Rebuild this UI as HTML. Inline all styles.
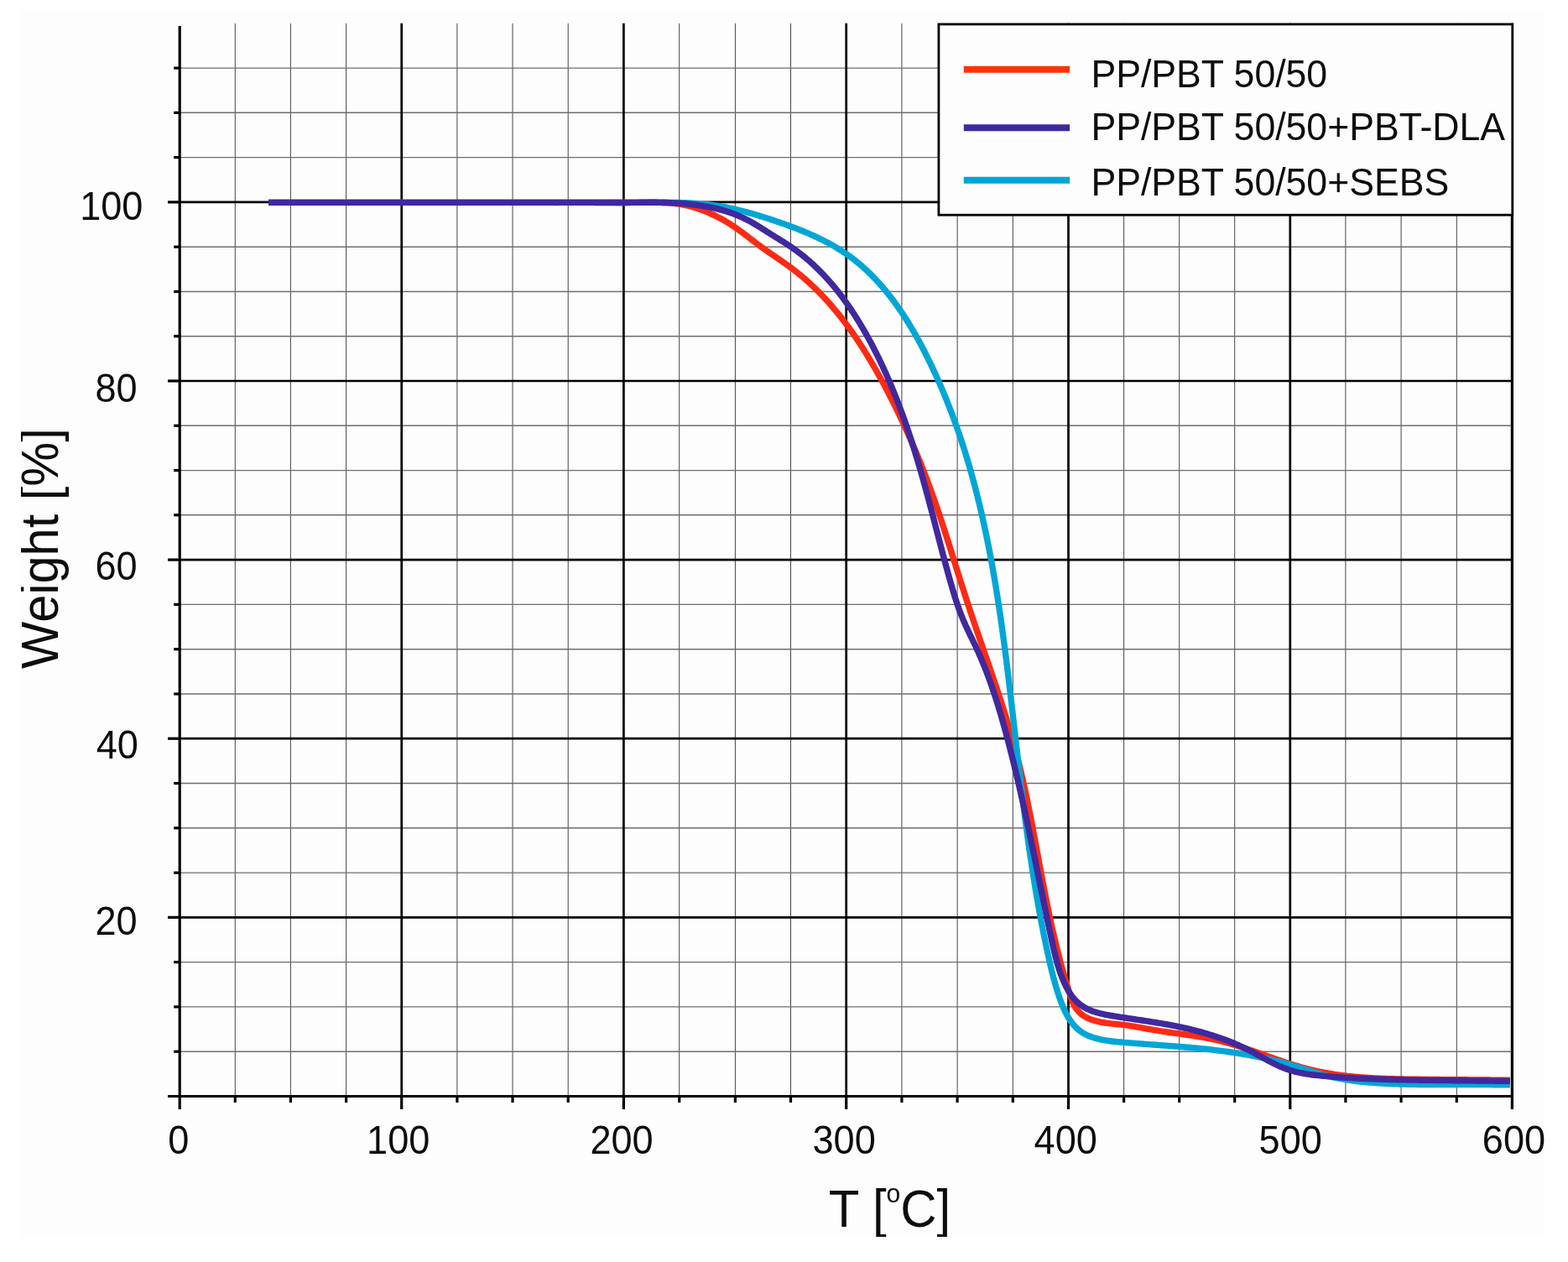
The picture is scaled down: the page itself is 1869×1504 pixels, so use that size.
<!DOCTYPE html>
<html lang="en"><head><meta charset="utf-8"><title>TGA curves</title>
<style>
html,body{margin:0;padding:0;background:#fff;}
body{width:1869px;height:1504px;overflow:hidden;}
svg{display:block;font-family:"Liberation Sans",Arial,sans-serif;}
</style></head><body>
<svg width="1869" height="1504" viewBox="0 0 1869 1504">
<rect x="25" y="12" width="1816" height="1462" fill="#fdfdfd"/>
<g stroke="#3c3c3c" stroke-width="0.95" fill="none">
<line x1="280.3" y1="27.8" x2="280.3" y2="1306.5"/>
<line x1="346.4" y1="27.8" x2="346.4" y2="1306.5"/>
<line x1="412.6" y1="27.8" x2="412.6" y2="1306.5"/>
<line x1="544.9" y1="27.8" x2="544.9" y2="1306.5"/>
<line x1="611.0" y1="27.8" x2="611.0" y2="1306.5"/>
<line x1="677.2" y1="27.8" x2="677.2" y2="1306.5"/>
<line x1="809.7" y1="27.8" x2="809.7" y2="1306.5"/>
<line x1="876.4" y1="27.8" x2="876.4" y2="1306.5"/>
<line x1="942.5" y1="27.8" x2="942.5" y2="1306.5"/>
<line x1="1074.9" y1="27.8" x2="1074.9" y2="1306.5"/>
<line x1="1141.1" y1="27.8" x2="1141.1" y2="1306.5"/>
<line x1="1207.3" y1="27.8" x2="1207.3" y2="1306.5"/>
<line x1="1339.6" y1="27.8" x2="1339.6" y2="1306.5"/>
<line x1="1405.7" y1="27.8" x2="1405.7" y2="1306.5"/>
<line x1="1471.7" y1="27.8" x2="1471.7" y2="1306.5"/>
<line x1="1603.9" y1="27.8" x2="1603.9" y2="1306.5"/>
<line x1="1670.1" y1="27.8" x2="1670.1" y2="1306.5"/>
<line x1="1736.3" y1="27.8" x2="1736.3" y2="1306.5"/>
</g>
<g stroke="#6e6e6e" stroke-width="1.4" fill="none">
<line x1="214.2" y1="1253.2" x2="1802.4" y2="1253.2"/>
<line x1="214.2" y1="1199.9" x2="1802.4" y2="1199.9"/>
<line x1="214.2" y1="1146.6" x2="1802.4" y2="1146.6"/>
<line x1="214.2" y1="1040.1" x2="1802.4" y2="1040.1"/>
<line x1="214.2" y1="986.8" x2="1802.4" y2="986.8"/>
<line x1="214.2" y1="933.5" x2="1802.4" y2="933.5"/>
<line x1="214.2" y1="827.0" x2="1802.4" y2="827.0"/>
<line x1="214.2" y1="773.7" x2="1802.4" y2="773.7"/>
<line x1="214.2" y1="720.4" x2="1802.4" y2="720.4"/>
<line x1="214.2" y1="613.8" x2="1802.4" y2="613.8"/>
<line x1="214.2" y1="560.6" x2="1802.4" y2="560.6"/>
<line x1="214.2" y1="507.3" x2="1802.4" y2="507.3"/>
<line x1="214.2" y1="400.7" x2="1802.4" y2="400.7"/>
<line x1="214.2" y1="347.5" x2="1802.4" y2="347.5"/>
<line x1="214.2" y1="294.2" x2="1802.4" y2="294.2"/>
<line x1="214.2" y1="187.6" x2="1802.4" y2="187.6"/>
<line x1="214.2" y1="134.3" x2="1802.4" y2="134.3"/>
<line x1="214.2" y1="81.1" x2="1802.4" y2="81.1"/>
</g>
<g stroke="#000" stroke-width="2.7" fill="none">
<line x1="478.7" y1="27.8" x2="478.7" y2="1306.5"/>
<line x1="743.4" y1="27.8" x2="743.4" y2="1306.5"/>
<line x1="1008.7" y1="27.8" x2="1008.7" y2="1306.5"/>
<line x1="1273.5" y1="27.8" x2="1273.5" y2="1306.5"/>
<line x1="1537.8" y1="27.8" x2="1537.8" y2="1306.5"/>
<line x1="214.2" y1="1093.3" x2="1802.4" y2="1093.3"/>
<line x1="214.2" y1="880.2" x2="1802.4" y2="880.2"/>
<line x1="214.2" y1="667.1" x2="1802.4" y2="667.1"/>
<line x1="214.2" y1="454.0" x2="1802.4" y2="454.0"/>
<line x1="214.2" y1="240.9" x2="1802.4" y2="240.9"/>
</g>
<g fill="none" stroke-width="7.4" stroke-linejoin="round" stroke-linecap="butt">
<path stroke="#ff2a14" d="M320.00,241.40 659.50,241.40 661.50,241.40 663.50,241.40 665.50,241.40 667.50,241.40 669.49,241.40 671.49,241.40 673.49,241.40 675.49,241.40 677.49,241.40 679.49,241.40 681.49,241.40 683.49,241.40 685.49,241.40 687.48,241.40 689.48,241.40 691.48,241.40 693.48,241.40 695.48,241.40 697.48,241.40 699.48,241.40 701.48,241.40 703.47,241.40 705.47,241.40 707.47,241.40 709.47,241.40 711.47,241.40 713.47,241.40 715.47,241.40 717.47,241.40 719.47,241.40 721.46,241.40 723.46,241.40 725.46,241.40 727.46,241.40 729.46,241.40 731.46,241.40 733.46,241.41 735.46,241.41 737.45,241.41 739.45,241.41 741.45,241.42 743.45,241.42 745.45,241.42 747.45,241.42 749.45,241.42 751.45,241.42 753.45,241.41 755.45,241.41 757.44,241.41 759.44,241.40 761.44,241.39 763.44,241.39 765.44,241.38 767.44,241.36 769.44,241.35 771.44,241.34 773.44,241.32 775.44,241.31 777.44,241.31 779.44,241.31 781.44,241.32 783.44,241.33 785.43,241.36 787.43,241.40 789.42,241.45 791.41,241.52 793.40,241.61 795.39,241.72 797.38,241.84 799.36,241.99 801.34,242.16 803.32,242.36 805.29,242.58 807.27,242.84 809.24,243.12 811.20,243.43 813.16,243.78 815.12,244.15 817.08,244.56 819.03,244.99 820.97,245.46 822.91,245.95 824.85,246.47 826.78,247.02 828.70,247.60 830.62,248.20 832.53,248.83 834.43,249.49 836.33,250.17 838.21,250.87 840.09,251.60 841.97,252.35 843.83,253.13 845.68,253.93 847.53,254.75 849.37,255.59 851.19,256.46 853.01,257.34 854.81,258.24 856.61,259.17 858.39,260.11 860.16,261.08 861.92,262.06 863.67,263.05 865.41,264.07 867.13,265.10 868.84,266.15 870.54,267.21 872.22,268.29 873.89,269.39 875.55,270.49 877.19,271.62 878.82,272.75 880.43,273.90 882.03,275.05 883.63,276.22 885.21,277.40 886.79,278.58 888.36,279.77 889.93,280.96 891.49,282.16 893.06,283.36 894.62,284.57 896.18,285.77 897.74,286.98 899.31,288.18 900.88,289.38 902.46,290.58 904.05,291.77 905.65,292.96 907.25,294.14 908.87,295.32 910.50,296.49 912.13,297.65 913.78,298.80 915.43,299.96 917.09,301.11 918.75,302.25 920.42,303.40 922.09,304.54 923.77,305.68 925.44,306.83 927.12,307.97 928.79,309.12 930.46,310.27 932.13,311.43 933.80,312.59 935.46,313.76 937.11,314.93 938.76,316.11 940.40,317.30 942.03,318.49 943.65,319.70 945.26,320.92 946.85,322.14 948.44,323.38 950.02,324.63 951.58,325.89 953.14,327.15 954.68,328.43 956.22,329.72 957.74,331.01 959.25,332.32 960.76,333.63 962.25,334.96 963.73,336.29 965.21,337.63 966.67,338.99 968.13,340.35 969.57,341.72 971.01,343.09 972.43,344.48 973.85,345.88 975.26,347.28 976.65,348.69 978.04,350.11 979.42,351.54 980.79,352.98 982.15,354.42 983.51,355.87 984.85,357.33 986.18,358.80 987.51,360.28 988.83,361.76 990.14,363.25 991.44,364.75 992.73,366.25 994.02,367.77 995.29,369.29 996.56,370.81 997.82,372.35 999.07,373.89 1000.32,375.43 1001.55,376.99 1002.78,378.55 1004.00,380.11 1005.21,381.69 1006.42,383.26 1007.62,384.85 1008.81,386.44 1009.99,388.04 1011.17,389.64 1012.34,391.25 1013.50,392.86 1014.66,394.48 1015.81,396.11 1016.95,397.74 1018.08,399.38 1019.21,401.02 1020.33,402.66 1021.45,404.32 1022.56,405.97 1023.66,407.63 1024.76,409.30 1025.85,410.97 1026.93,412.65 1028.01,414.33 1029.08,416.01 1030.15,417.70 1031.21,419.39 1032.26,421.09 1033.31,422.79 1034.35,424.50 1035.39,426.20 1036.42,427.92 1037.45,429.63 1038.47,431.35 1039.49,433.08 1040.50,434.80 1041.51,436.53 1042.51,438.27 1043.51,440.00 1044.50,441.74 1045.48,443.48 1046.47,445.23 1047.45,446.98 1048.42,448.73 1049.39,450.48 1050.35,452.24 1051.31,453.99 1052.27,455.75 1053.22,457.52 1054.17,459.28 1055.11,461.05 1056.05,462.82 1056.99,464.59 1057.92,466.36 1058.84,468.14 1059.77,469.92 1060.68,471.70 1061.60,473.48 1062.51,475.26 1063.42,477.05 1064.32,478.84 1065.22,480.63 1066.11,482.42 1067.00,484.21 1067.89,486.01 1068.77,487.81 1069.65,489.61 1070.52,491.41 1071.39,493.21 1072.26,495.02 1073.12,496.83 1073.98,498.64 1074.83,500.45 1075.68,502.26 1076.53,504.08 1077.37,505.89 1078.21,507.71 1079.04,509.53 1079.87,511.36 1080.70,513.18 1081.52,515.01 1082.34,516.83 1083.15,518.66 1083.96,520.49 1084.77,522.33 1085.57,524.16 1086.37,526.00 1087.17,527.83 1087.96,529.67 1088.75,531.51 1089.53,533.35 1090.31,535.20 1091.09,537.04 1091.86,538.89 1092.63,540.74 1093.40,542.59 1094.16,544.44 1094.91,546.29 1095.67,548.14 1096.42,550.00 1097.16,551.85 1097.91,553.71 1098.65,555.57 1099.38,557.43 1100.11,559.29 1100.84,561.16 1101.57,563.02 1102.29,564.89 1103.00,566.75 1103.72,568.62 1104.43,570.49 1105.13,572.36 1105.83,574.23 1106.53,576.10 1107.23,577.98 1107.92,579.85 1108.61,581.73 1109.29,583.60 1109.97,585.48 1110.65,587.36 1111.32,589.24 1111.99,591.12 1112.66,593.00 1113.32,594.89 1113.98,596.77 1114.64,598.65 1115.30,600.54 1115.95,602.43 1116.60,604.31 1117.24,606.20 1117.88,608.09 1118.52,609.98 1119.16,611.87 1119.80,613.76 1120.43,615.65 1121.06,617.55 1121.69,619.44 1122.31,621.33 1122.94,623.23 1123.56,625.12 1124.18,627.02 1124.80,628.92 1125.41,630.81 1126.03,632.71 1126.64,634.61 1127.25,636.51 1127.86,638.40 1128.47,640.30 1129.07,642.20 1129.68,644.10 1130.29,646.00 1130.89,647.90 1131.49,649.80 1132.09,651.71 1132.69,653.61 1133.29,655.51 1133.89,657.41 1134.49,659.31 1135.09,661.21 1135.69,663.12 1136.29,665.02 1136.88,666.92 1137.48,668.82 1138.08,670.73 1138.68,672.63 1139.27,674.53 1139.87,676.44 1140.47,678.34 1141.07,680.24 1141.66,682.14 1142.26,684.05 1142.86,685.95 1143.46,687.85 1144.06,689.75 1144.66,691.65 1145.27,693.56 1145.87,695.46 1146.47,697.36 1147.08,699.26 1147.69,701.16 1148.29,703.06 1148.90,704.96 1149.51,706.86 1150.13,708.76 1150.74,710.66 1151.36,712.56 1151.97,714.45 1152.59,716.35 1153.21,718.25 1153.83,720.14 1154.46,722.04 1155.09,723.94 1155.72,725.83 1156.35,727.72 1156.98,729.62 1157.61,731.51 1158.25,733.40 1158.89,735.30 1159.52,737.19 1160.16,739.08 1160.81,740.97 1161.45,742.86 1162.09,744.76 1162.74,746.65 1163.38,748.54 1164.03,750.43 1164.68,752.32 1165.33,754.21 1165.98,756.09 1166.63,757.98 1167.28,759.87 1167.93,761.76 1168.58,763.65 1169.24,765.54 1169.89,767.43 1170.54,769.32 1171.20,771.21 1171.85,773.09 1172.50,774.98 1173.16,776.87 1173.81,778.76 1174.46,780.65 1175.12,782.54 1175.77,784.42 1176.42,786.31 1177.07,788.20 1177.72,790.09 1178.37,791.98 1179.02,793.87 1179.67,795.76 1180.32,797.65 1180.97,799.54 1181.62,801.43 1182.26,803.32 1182.91,805.21 1183.55,807.10 1184.19,808.99 1184.83,810.89 1185.47,812.78 1186.11,814.67 1186.75,816.56 1187.38,818.46 1188.02,820.35 1188.65,822.25 1189.28,824.14 1189.91,826.04 1190.53,827.93 1191.16,829.83 1191.78,831.72 1192.40,833.62 1193.02,835.52 1193.63,837.42 1194.24,839.32 1194.85,841.22 1195.46,843.12 1196.07,845.02 1196.67,846.92 1197.27,848.83 1197.87,850.73 1198.46,852.63 1199.05,854.54 1199.64,856.44 1200.22,858.35 1200.81,860.26 1201.39,862.17 1201.96,864.08 1202.53,865.99 1203.10,867.90 1203.67,869.81 1204.23,871.72 1204.79,873.64 1205.34,875.55 1205.89,877.47 1206.44,879.39 1206.98,881.30 1207.52,883.22 1208.05,885.14 1208.58,887.06 1209.11,888.99 1209.63,890.91 1210.15,892.84 1210.66,894.76 1211.17,896.69 1211.67,898.62 1212.17,900.55 1212.67,902.48 1213.16,904.41 1213.64,906.34 1214.13,908.28 1214.60,910.21 1215.08,912.15 1215.55,914.08 1216.01,916.02 1216.48,917.96 1216.94,919.90 1217.39,921.84 1217.84,923.79 1218.29,925.73 1218.74,927.67 1219.18,929.62 1219.62,931.56 1220.05,933.51 1220.48,935.46 1220.91,937.41 1221.34,939.36 1221.76,941.31 1222.18,943.26 1222.60,945.21 1223.01,947.16 1223.43,949.11 1223.84,951.07 1224.24,953.02 1224.65,954.98 1225.05,956.93 1225.45,958.89 1225.85,960.85 1226.24,962.80 1226.64,964.76 1227.03,966.72 1227.42,968.68 1227.80,970.64 1228.19,972.60 1228.57,974.56 1228.96,976.52 1229.34,978.48 1229.72,980.45 1230.10,982.41 1230.47,984.37 1230.85,986.34 1231.22,988.30 1231.60,990.26 1231.97,992.23 1232.34,994.19 1232.71,996.16 1233.08,998.12 1233.45,1000.09 1233.82,1002.05 1234.18,1004.02 1234.55,1005.98 1234.92,1007.95 1235.28,1009.92 1235.65,1011.88 1236.01,1013.85 1236.38,1015.82 1236.74,1017.78 1237.11,1019.75 1237.47,1021.72 1237.84,1023.68 1238.20,1025.65 1238.57,1027.62 1238.93,1029.58 1239.30,1031.55 1239.67,1033.52 1240.03,1035.48 1240.40,1037.45 1240.77,1039.42 1241.14,1041.38 1241.51,1043.35 1241.88,1045.32 1242.25,1047.28 1242.62,1049.25 1242.99,1051.21 1243.37,1053.18 1243.74,1055.14 1244.12,1057.11 1244.50,1059.07 1244.88,1061.04 1245.26,1063.00 1245.65,1064.96 1246.03,1066.93 1246.42,1068.89 1246.81,1070.85 1247.20,1072.81 1247.59,1074.77 1247.98,1076.73 1248.38,1078.69 1248.78,1080.65 1249.18,1082.61 1249.58,1084.57 1249.99,1086.53 1250.39,1088.49 1250.80,1090.44 1251.22,1092.40 1251.63,1094.36 1252.05,1096.31 1252.47,1098.27 1252.89,1100.22 1253.32,1102.17 1253.75,1104.12 1254.18,1106.08 1254.62,1108.03 1255.06,1109.98 1255.50,1111.93 1255.95,1113.87 1256.40,1115.82 1256.85,1117.77 1257.31,1119.71 1257.77,1121.66 1258.23,1123.60 1258.70,1125.55 1259.17,1127.49 1259.65,1129.43 1260.13,1131.37 1260.61,1133.31 1261.10,1135.25 1261.59,1137.19 1262.09,1139.12 1262.59,1141.06 1263.09,1142.99 1263.60,1144.92 1264.12,1146.86 1264.63,1148.79 1265.16,1150.72 1265.69,1152.65 1266.22,1154.58 1266.76,1156.50 1267.30,1158.43 1267.85,1160.36 1268.40,1162.29 1268.96,1164.21 1269.52,1166.14 1270.09,1168.06 1270.66,1169.99 1271.24,1171.91 1271.82,1173.84 1272.41,1175.76 1273.01,1177.68 1273.61,1179.61 1274.21,1181.53 1274.82,1183.46 1275.44,1185.38 1276.07,1187.30 1276.72,1189.21 1277.39,1191.09 1278.10,1192.95 1278.86,1194.78 1279.68,1196.55 1280.55,1198.28 1281.50,1199.95 1282.52,1201.55 1283.60,1203.09 1284.77,1204.56 1286.01,1205.95 1287.33,1207.26 1288.73,1208.48 1290.21,1209.62 1291.76,1210.68 1293.37,1211.67 1295.04,1212.58 1296.76,1213.42 1298.53,1214.20 1300.34,1214.91 1302.19,1215.55 1304.08,1216.15 1305.99,1216.69 1307.93,1217.18 1309.91,1217.62 1311.90,1218.03 1313.91,1218.40 1315.95,1218.73 1318.00,1219.04 1320.06,1219.32 1322.13,1219.58 1324.21,1219.83 1326.29,1220.06 1328.37,1220.28 1330.46,1220.50 1332.54,1220.71 1334.61,1220.93 1336.67,1221.15 1338.72,1221.39 1340.76,1221.64 1342.78,1221.91 1344.78,1222.19 1346.78,1222.49 1348.75,1222.79 1350.72,1223.11 1352.68,1223.44 1354.62,1223.78 1356.56,1224.12 1358.50,1224.47 1360.43,1224.82 1362.35,1225.18 1364.27,1225.53 1366.19,1225.89 1368.11,1226.24 1370.04,1226.58 1371.96,1226.93 1373.89,1227.26 1375.82,1227.59 1377.76,1227.91 1379.70,1228.22 1381.65,1228.52 1383.60,1228.82 1385.55,1229.12 1387.51,1229.41 1389.47,1229.69 1391.44,1229.97 1393.40,1230.25 1395.37,1230.53 1397.34,1230.81 1399.32,1231.08 1401.30,1231.35 1403.27,1231.62 1405.25,1231.90 1407.23,1232.17 1409.22,1232.45 1411.20,1232.73 1413.18,1233.01 1415.17,1233.30 1417.15,1233.58 1419.14,1233.88 1421.12,1234.18 1423.10,1234.48 1425.08,1234.79 1427.07,1235.11 1429.05,1235.44 1431.03,1235.77 1433.00,1236.11 1434.98,1236.47 1436.95,1236.83 1438.92,1237.20 1440.89,1237.59 1442.86,1237.98 1444.82,1238.39 1446.78,1238.81 1448.74,1239.24 1450.69,1239.69 1452.64,1240.15 1454.58,1240.63 1456.52,1241.12 1458.46,1241.62 1460.39,1242.14 1462.33,1242.67 1464.25,1243.20 1466.18,1243.75 1468.10,1244.31 1470.02,1244.88 1471.94,1245.46 1473.85,1246.05 1475.76,1246.65 1477.67,1247.26 1479.58,1247.87 1481.49,1248.49 1483.39,1249.12 1485.29,1249.75 1487.19,1250.39 1489.09,1251.03 1490.99,1251.68 1492.88,1252.33 1494.77,1252.99 1496.67,1253.65 1498.56,1254.31 1500.45,1254.98 1502.34,1255.64 1504.23,1256.31 1506.12,1256.98 1508.01,1257.65 1509.90,1258.32 1511.78,1258.98 1513.67,1259.65 1515.56,1260.32 1517.45,1260.98 1519.34,1261.64 1521.23,1262.30 1523.12,1262.95 1525.01,1263.60 1526.90,1264.25 1528.79,1264.89 1530.68,1265.52 1532.57,1266.15 1534.47,1266.78 1536.36,1267.39 1538.26,1268.00 1540.16,1268.60 1542.06,1269.19 1543.97,1269.78 1545.87,1270.35 1547.78,1270.91 1549.69,1271.47 1551.60,1272.01 1553.51,1272.54 1555.43,1273.06 1557.34,1273.57 1559.27,1274.06 1561.19,1274.55 1563.12,1275.01 1565.05,1275.47 1566.98,1275.91 1568.91,1276.34 1570.85,1276.76 1572.79,1277.16 1574.74,1277.56 1576.68,1277.94 1578.63,1278.31 1580.58,1278.66 1582.53,1279.01 1584.49,1279.35 1586.44,1279.67 1588.40,1279.98 1590.37,1280.29 1592.33,1280.58 1594.29,1280.86 1596.26,1281.14 1598.23,1281.40 1600.20,1281.65 1602.18,1281.90 1604.15,1282.13 1606.13,1282.36 1608.11,1282.57 1610.09,1282.78 1612.07,1282.98 1614.05,1283.17 1616.04,1283.36 1618.02,1283.53 1620.01,1283.70 1622.00,1283.86 1623.99,1284.02 1625.98,1284.16 1627.97,1284.30 1629.97,1284.44 1631.96,1284.56 1633.96,1284.68 1635.96,1284.80 1637.95,1284.91 1639.95,1285.01 1641.95,1285.11 1643.95,1285.20 1645.95,1285.29 1647.95,1285.37 1649.96,1285.44 1651.96,1285.52 1653.96,1285.59 1655.97,1285.65 1657.97,1285.71 1659.97,1285.77 1661.98,1285.82 1663.98,1285.87 1665.99,1285.92 1667.99,1285.96 1670.00,1286.00 1672.01,1286.04 1674.01,1286.08 1676.02,1286.11 1678.02,1286.14 1680.03,1286.17 1682.03,1286.20 1684.04,1286.23 1686.04,1286.25 1688.05,1286.28 1690.05,1286.30 1692.05,1286.32 1694.06,1286.35 1696.06,1286.37 1698.06,1286.39 1700.06,1286.41 1702.06,1286.43 1704.07,1286.45 1706.07,1286.47 1708.07,1286.49 1710.07,1286.51 1712.07,1286.53 1714.07,1286.55 1716.07,1286.56 1718.06,1286.58 1720.06,1286.60 1722.06,1286.61 1724.06,1286.63 1726.06,1286.65 1728.06,1286.66 1730.05,1286.68 1732.05,1286.69 1734.05,1286.71 1736.05,1286.73 1738.05,1286.74 1740.04,1286.76 1742.04,1286.77 1744.04,1286.79 1746.03,1286.80 1748.03,1286.82 1750.03,1286.83 1752.03,1286.85 1754.02,1286.87 1756.02,1286.88 1758.02,1286.90 1760.02,1286.92 1762.01,1286.93 1764.01,1286.95 1766.01,1286.97 1768.01,1286.98 1770.01,1287.00 1772.01,1287.02 1774.00,1287.04 1776.00,1287.06 1778.00,1287.08 1780.00,1287.10 1782.00,1287.12 1784.00,1287.14 1786.00,1287.16 1788.00,1287.18 1790.00,1287.21 1792.00,1287.23 1794.01,1287.25 1796.01,1287.28 1798.01,1287.30 1800.01,1287.33"/>
<path stroke="#00a6d6" d="M320.00,241.40 682.80,241.40 684.84,241.40 686.90,241.40 688.96,241.39 691.02,241.39 693.08,241.39 695.14,241.39 697.20,241.39 699.25,241.39 701.31,241.39 703.36,241.39 705.42,241.39 707.47,241.39 709.53,241.39 711.58,241.39 713.63,241.40 715.68,241.40 717.73,241.40 719.79,241.41 721.84,241.41 723.89,241.41 725.94,241.41 727.99,241.42 730.04,241.42 732.09,241.42 734.14,241.43 736.19,241.43 738.24,241.43 740.29,241.43 742.34,241.43 744.39,241.43 746.44,241.43 748.49,241.43 750.54,241.43 752.59,241.42 754.65,241.42 756.70,241.42 758.75,241.41 760.81,241.40 762.86,241.40 764.92,241.39 766.97,241.38 769.03,241.37 771.08,241.36 773.14,241.34 775.20,241.33 777.26,241.32 779.32,241.31 781.38,241.30 783.44,241.29 785.49,241.29 787.55,241.29 789.61,241.29 791.67,241.29 793.73,241.30 795.79,241.31 797.85,241.32 799.91,241.34 801.96,241.37 804.02,241.40 806.08,241.44 808.13,241.48 810.19,241.53 812.24,241.59 814.29,241.66 816.34,241.73 818.39,241.81 820.44,241.90 822.49,242.00 824.54,242.11 826.58,242.23 828.63,242.36 830.67,242.51 832.71,242.66 834.75,242.82 836.78,243.00 838.82,243.19 840.85,243.39 842.88,243.61 844.91,243.84 846.93,244.08 848.96,244.34 850.98,244.61 853.00,244.90 855.01,245.20 857.03,245.52 859.04,245.86 861.05,246.21 863.06,246.58 865.06,246.96 867.06,247.35 869.06,247.76 871.06,248.18 873.06,248.61 875.05,249.06 877.04,249.52 879.04,249.99 881.02,250.48 883.01,250.97 885.00,251.48 886.98,251.99 888.97,252.52 890.95,253.06 892.93,253.61 894.91,254.17 896.89,254.73 898.87,255.31 900.85,255.89 902.83,256.49 904.80,257.09 906.78,257.70 908.76,258.31 910.73,258.93 912.71,259.56 914.68,260.20 916.66,260.84 918.63,261.49 920.61,262.14 922.58,262.80 924.55,263.46 926.53,264.13 928.50,264.80 930.47,265.48 932.44,266.17 934.41,266.86 936.38,267.56 938.34,268.27 940.31,268.98 942.27,269.70 944.22,270.43 946.17,271.17 948.12,271.92 950.07,272.67 952.01,273.43 953.95,274.20 955.88,274.98 957.81,275.77 959.73,276.57 961.65,277.38 963.56,278.20 965.46,279.03 967.36,279.87 969.25,280.72 971.14,281.58 973.02,282.45 974.89,283.33 976.75,284.23 978.60,285.13 980.45,286.05 982.29,286.99 984.12,287.93 985.94,288.89 987.75,289.85 989.55,290.84 991.34,291.83 993.12,292.84 994.89,293.87 996.65,294.91 998.40,295.96 1000.14,297.02 1001.86,298.11 1003.58,299.20 1005.28,300.32 1006.97,301.44 1008.64,302.59 1010.31,303.75 1011.96,304.92 1013.59,306.11 1015.22,307.32 1016.83,308.54 1018.43,309.78 1020.02,311.03 1021.59,312.30 1023.15,313.58 1024.70,314.88 1026.24,316.19 1027.76,317.51 1029.28,318.85 1030.78,320.21 1032.27,321.57 1033.74,322.95 1035.21,324.35 1036.66,325.75 1038.10,327.17 1039.54,328.61 1040.96,330.05 1042.36,331.51 1043.76,332.98 1045.15,334.46 1046.52,335.95 1047.89,337.46 1049.24,338.97 1050.58,340.50 1051.91,342.04 1053.24,343.59 1054.55,345.15 1055.85,346.72 1057.14,348.30 1058.42,349.89 1059.69,351.49 1060.95,353.10 1062.20,354.72 1063.44,356.35 1064.67,357.99 1065.89,359.64 1067.11,361.29 1068.31,362.96 1069.50,364.63 1070.68,366.32 1071.86,368.01 1073.02,369.70 1074.18,371.41 1075.33,373.12 1076.47,374.85 1077.60,376.57 1078.72,378.31 1079.83,380.05 1080.93,381.80 1082.03,383.56 1083.12,385.32 1084.20,387.09 1085.27,388.86 1086.33,390.64 1087.39,392.42 1088.44,394.21 1089.48,396.01 1090.51,397.81 1091.53,399.62 1092.55,401.43 1093.56,403.24 1094.56,405.06 1095.56,406.88 1096.55,408.71 1097.53,410.54 1098.50,412.37 1099.47,414.21 1100.43,416.05 1101.38,417.89 1102.33,419.74 1103.27,421.59 1104.21,423.44 1105.14,425.30 1106.06,427.15 1106.97,429.01 1107.88,430.87 1108.79,432.73 1109.69,434.59 1110.58,436.46 1111.46,438.33 1112.34,440.19 1113.22,442.07 1114.09,443.94 1114.95,445.81 1115.80,447.69 1116.65,449.57 1117.50,451.45 1118.34,453.33 1119.17,455.21 1120.00,457.09 1120.82,458.98 1121.64,460.87 1122.45,462.76 1123.25,464.65 1124.05,466.54 1124.85,468.44 1125.64,470.34 1126.42,472.23 1127.20,474.13 1127.97,476.04 1128.74,477.94 1129.50,479.84 1130.25,481.75 1131.00,483.66 1131.75,485.57 1132.49,487.48 1133.22,489.39 1133.95,491.31 1134.68,493.22 1135.40,495.14 1136.11,497.06 1136.82,498.98 1137.53,500.90 1138.22,502.83 1138.92,504.75 1139.61,506.68 1140.29,508.61 1140.97,510.54 1141.65,512.47 1142.31,514.40 1142.98,516.33 1143.64,518.27 1144.29,520.21 1144.94,522.15 1145.59,524.09 1146.23,526.03 1146.87,527.97 1147.50,529.91 1148.12,531.86 1148.75,533.80 1149.36,535.75 1149.98,537.70 1150.58,539.65 1151.19,541.60 1151.79,543.56 1152.38,545.51 1152.97,547.47 1153.56,549.43 1154.14,551.38 1154.72,553.34 1155.29,555.31 1155.86,557.27 1156.42,559.23 1156.98,561.20 1157.54,563.16 1158.09,565.13 1158.64,567.10 1159.18,569.07 1159.72,571.04 1160.26,573.01 1160.79,574.98 1161.32,576.96 1161.84,578.93 1162.36,580.91 1162.88,582.89 1163.39,584.87 1163.90,586.85 1164.40,588.83 1164.90,590.81 1165.40,592.79 1165.89,594.78 1166.38,596.76 1166.86,598.75 1167.34,600.74 1167.82,602.72 1168.29,604.71 1168.77,606.71 1169.23,608.70 1169.70,610.69 1170.16,612.68 1170.61,614.68 1171.06,616.67 1171.51,618.67 1171.96,620.67 1172.40,622.67 1172.84,624.66 1173.28,626.67 1173.71,628.67 1174.14,630.67 1174.57,632.67 1174.99,634.68 1175.41,636.68 1175.82,638.69 1176.24,640.69 1176.65,642.70 1177.06,644.71 1177.46,646.72 1177.86,648.73 1178.26,650.74 1178.65,652.75 1179.05,654.76 1179.43,656.77 1179.82,658.79 1180.20,660.80 1180.58,662.82 1180.96,664.83 1181.34,666.85 1181.71,668.87 1182.08,670.89 1182.45,672.91 1182.81,674.93 1183.17,676.95 1183.53,678.97 1183.89,680.99 1184.24,683.01 1184.59,685.03 1184.94,687.06 1185.28,689.08 1185.63,691.11 1185.97,693.13 1186.31,695.16 1186.64,697.19 1186.98,699.21 1187.31,701.24 1187.64,703.27 1187.97,705.30 1188.29,707.33 1188.61,709.36 1188.93,711.39 1189.25,713.42 1189.57,715.45 1189.88,717.49 1190.19,719.52 1190.50,721.55 1190.81,723.59 1191.12,725.62 1191.42,727.65 1191.72,729.69 1192.02,731.73 1192.32,733.76 1192.62,735.80 1192.91,737.83 1193.20,739.87 1193.50,741.91 1193.78,743.95 1194.07,745.99 1194.36,748.03 1194.64,750.06 1194.92,752.10 1195.20,754.14 1195.48,756.18 1195.76,758.22 1196.04,760.27 1196.31,762.31 1196.58,764.35 1196.86,766.39 1197.13,768.43 1197.39,770.47 1197.66,772.52 1197.93,774.56 1198.19,776.60 1198.46,778.65 1198.72,780.69 1198.98,782.73 1199.24,784.78 1199.50,786.82 1199.75,788.87 1200.01,790.91 1200.26,792.95 1200.52,795.00 1200.77,797.04 1201.02,799.09 1201.27,801.13 1201.52,803.18 1201.77,805.22 1202.02,807.27 1202.27,809.32 1202.51,811.36 1202.76,813.41 1203.00,815.45 1203.25,817.50 1203.49,819.54 1203.73,821.59 1203.98,823.64 1204.22,825.68 1204.46,827.73 1204.70,829.77 1204.94,831.82 1205.17,833.87 1205.41,835.91 1205.65,837.96 1205.89,840.00 1206.12,842.05 1206.36,844.10 1206.60,846.14 1206.83,848.19 1207.07,850.23 1207.30,852.28 1207.54,854.32 1207.77,856.37 1208.00,858.41 1208.24,860.46 1208.47,862.50 1208.70,864.55 1208.94,866.59 1209.17,868.63 1209.40,870.68 1209.64,872.72 1209.87,874.77 1210.10,876.81 1210.34,878.85 1210.57,880.89 1210.80,882.94 1211.04,884.98 1211.27,887.02 1211.50,889.06 1211.74,891.10 1211.97,893.15 1212.21,895.19 1212.44,897.23 1212.68,899.27 1212.91,901.31 1213.15,903.35 1213.38,905.39 1213.62,907.43 1213.86,909.46 1214.09,911.50 1214.33,913.54 1214.57,915.58 1214.81,917.62 1215.05,919.65 1215.29,921.69 1215.53,923.73 1215.77,925.76 1216.01,927.80 1216.25,929.83 1216.50,931.87 1216.74,933.91 1216.99,935.94 1217.23,937.97 1217.48,940.01 1217.72,942.04 1217.97,944.08 1218.22,946.11 1218.47,948.14 1218.72,950.18 1218.97,952.21 1219.22,954.24 1219.48,956.27 1219.73,958.30 1219.99,960.34 1220.24,962.37 1220.50,964.40 1220.76,966.43 1221.02,968.46 1221.28,970.49 1221.54,972.52 1221.81,974.55 1222.07,976.58 1222.34,978.60 1222.60,980.63 1222.87,982.66 1223.14,984.69 1223.41,986.72 1223.68,988.74 1223.96,990.77 1224.23,992.80 1224.51,994.82 1224.79,996.85 1225.07,998.88 1225.35,1000.90 1225.63,1002.93 1225.91,1004.95 1226.20,1006.98 1226.49,1009.00 1226.77,1011.03 1227.07,1013.05 1227.36,1015.08 1227.65,1017.10 1227.95,1019.12 1228.24,1021.15 1228.54,1023.17 1228.84,1025.19 1229.15,1027.21 1229.45,1029.24 1229.76,1031.26 1230.07,1033.28 1230.38,1035.30 1230.69,1037.32 1231.00,1039.34 1231.32,1041.36 1231.64,1043.38 1231.96,1045.40 1232.28,1047.42 1232.60,1049.44 1232.93,1051.46 1233.26,1053.48 1233.59,1055.50 1233.92,1057.52 1234.26,1059.54 1234.59,1061.56 1234.93,1063.57 1235.28,1065.59 1235.62,1067.61 1235.97,1069.62 1236.31,1071.64 1236.67,1073.66 1237.02,1075.67 1237.38,1077.69 1237.73,1079.71 1238.09,1081.72 1238.46,1083.74 1238.82,1085.75 1239.19,1087.77 1239.56,1089.78 1239.94,1091.80 1240.31,1093.81 1240.69,1095.83 1241.07,1097.84 1241.46,1099.85 1241.84,1101.87 1242.23,1103.88 1242.63,1105.89 1243.02,1107.91 1243.42,1109.92 1243.82,1111.93 1244.22,1113.94 1244.63,1115.95 1245.04,1117.97 1245.45,1119.98 1245.87,1121.99 1246.29,1124.00 1246.71,1126.01 1247.13,1128.02 1247.56,1130.03 1247.99,1132.04 1248.42,1134.05 1248.86,1136.06 1249.30,1138.07 1249.74,1140.08 1250.19,1142.09 1250.64,1144.10 1251.09,1146.11 1251.55,1148.11 1252.02,1150.12 1252.49,1152.13 1252.97,1154.14 1253.45,1156.15 1253.95,1158.16 1254.45,1160.17 1254.96,1162.18 1255.48,1164.19 1256.01,1166.21 1256.55,1168.22 1257.11,1170.23 1257.67,1172.25 1258.25,1174.26 1258.84,1176.28 1259.44,1178.29 1260.06,1180.31 1260.69,1182.33 1261.34,1184.35 1262.01,1186.37 1262.69,1188.39 1263.39,1190.40 1264.12,1192.41 1264.86,1194.40 1265.63,1196.38 1266.42,1198.34 1267.23,1200.29 1268.08,1202.21 1268.95,1204.11 1269.85,1205.99 1270.79,1207.83 1271.75,1209.64 1272.75,1211.42 1273.78,1213.15 1274.86,1214.85 1275.96,1216.51 1277.11,1218.12 1278.30,1219.68 1279.53,1221.19 1280.80,1222.64 1282.12,1224.04 1283.48,1225.38 1284.89,1226.66 1286.35,1227.87 1287.86,1229.02 1289.42,1230.09 1291.02,1231.11 1292.68,1232.06 1294.37,1232.95 1296.11,1233.78 1297.88,1234.56 1299.70,1235.28 1301.54,1235.95 1303.42,1236.58 1305.34,1237.16 1307.28,1237.69 1309.25,1238.19 1311.24,1238.64 1313.26,1239.06 1315.29,1239.45 1317.35,1239.81 1319.42,1240.14 1321.50,1240.44 1323.60,1240.72 1325.71,1240.98 1327.83,1241.22 1329.95,1241.44 1332.08,1241.65 1334.21,1241.85 1336.34,1242.04 1338.47,1242.22 1340.59,1242.40 1342.71,1242.58 1344.83,1242.75 1346.94,1242.92 1349.04,1243.09 1351.15,1243.25 1353.24,1243.42 1355.34,1243.58 1357.43,1243.74 1359.51,1243.90 1361.60,1244.06 1363.67,1244.21 1365.75,1244.37 1367.82,1244.52 1369.89,1244.67 1371.96,1244.82 1374.02,1244.98 1376.08,1245.13 1378.14,1245.28 1380.19,1245.43 1382.24,1245.58 1384.29,1245.73 1386.34,1245.88 1388.39,1246.03 1390.43,1246.18 1392.47,1246.34 1394.51,1246.49 1396.55,1246.65 1398.58,1246.80 1400.62,1246.96 1402.65,1247.12 1404.68,1247.28 1406.71,1247.45 1408.74,1247.61 1410.77,1247.78 1412.80,1247.95 1414.83,1248.12 1416.85,1248.30 1418.88,1248.48 1420.91,1248.66 1422.93,1248.85 1424.96,1249.03 1426.98,1249.23 1429.01,1249.42 1431.03,1249.62 1433.06,1249.83 1435.09,1250.03 1437.11,1250.25 1439.14,1250.46 1441.17,1250.68 1443.20,1250.91 1445.23,1251.14 1447.26,1251.38 1449.29,1251.62 1451.32,1251.86 1453.35,1252.11 1455.39,1252.37 1457.42,1252.63 1459.45,1252.90 1461.48,1253.18 1463.52,1253.46 1465.55,1253.74 1467.58,1254.03 1469.61,1254.33 1471.65,1254.64 1473.68,1254.95 1475.71,1255.27 1477.74,1255.59 1479.77,1255.92 1481.80,1256.26 1483.82,1256.61 1485.85,1256.96 1487.88,1257.32 1489.90,1257.68 1491.93,1258.06 1493.95,1258.44 1495.97,1258.83 1497.99,1259.23 1500.01,1259.63 1502.03,1260.05 1504.04,1260.47 1506.05,1260.90 1508.07,1261.33 1510.08,1261.78 1512.08,1262.24 1514.09,1262.70 1516.09,1263.17 1518.10,1263.65 1520.10,1264.15 1522.09,1264.64 1524.09,1265.15 1526.08,1265.67 1528.07,1266.20 1530.06,1266.74 1532.04,1267.28 1534.02,1267.84 1536.00,1268.41 1537.98,1268.99 1539.95,1269.57 1541.92,1270.17 1543.89,1270.77 1545.86,1271.38 1547.82,1272.00 1549.78,1272.61 1551.74,1273.23 1553.70,1273.86 1555.66,1274.48 1557.62,1275.10 1559.58,1275.72 1561.54,1276.33 1563.50,1276.94 1565.46,1277.54 1567.42,1278.14 1569.39,1278.73 1571.35,1279.30 1573.32,1279.87 1575.29,1280.42 1577.27,1280.96 1579.24,1281.48 1581.22,1281.99 1583.21,1282.48 1585.19,1282.95 1587.18,1283.41 1589.18,1283.85 1591.17,1284.28 1593.17,1284.69 1595.17,1285.08 1597.18,1285.46 1599.19,1285.83 1601.20,1286.18 1603.21,1286.52 1605.22,1286.85 1607.24,1287.16 1609.26,1287.46 1611.29,1287.75 1613.31,1288.03 1615.34,1288.29 1617.37,1288.54 1619.40,1288.78 1621.43,1289.01 1623.47,1289.23 1625.50,1289.44 1627.54,1289.64 1629.58,1289.83 1631.62,1290.01 1633.67,1290.18 1635.71,1290.34 1637.76,1290.49 1639.80,1290.64 1641.85,1290.77 1643.90,1290.90 1645.95,1291.03 1648.00,1291.14 1650.05,1291.25 1652.11,1291.35 1654.16,1291.45 1656.21,1291.54 1658.27,1291.63 1660.32,1291.71 1662.38,1291.78 1664.43,1291.85 1666.49,1291.92 1668.54,1291.98 1670.60,1292.04 1672.65,1292.09 1674.71,1292.15 1676.76,1292.20 1678.82,1292.24 1680.87,1292.28 1682.93,1292.32 1684.98,1292.36 1687.03,1292.40 1689.09,1292.43 1691.14,1292.46 1693.20,1292.49 1695.25,1292.51 1697.31,1292.53 1699.36,1292.55 1701.42,1292.57 1703.47,1292.59 1705.52,1292.60 1707.58,1292.61 1709.63,1292.63 1711.69,1292.64 1713.74,1292.64 1715.80,1292.65 1717.85,1292.66 1719.90,1292.66 1721.96,1292.66 1724.01,1292.66 1726.06,1292.67 1728.12,1292.67 1730.17,1292.67 1732.23,1292.66 1734.28,1292.66 1736.33,1292.66 1738.39,1292.66 1740.44,1292.66 1742.50,1292.65 1744.55,1292.65 1746.60,1292.65 1748.66,1292.64 1750.71,1292.64 1752.76,1292.64 1754.82,1292.64 1756.87,1292.64 1758.92,1292.64 1760.98,1292.64 1763.03,1292.64 1765.09,1292.64 1767.14,1292.64 1769.19,1292.64 1771.25,1292.65 1773.30,1292.65 1775.35,1292.66 1777.41,1292.67 1779.46,1292.68 1781.52,1292.69 1783.57,1292.71 1785.62,1292.72 1787.68,1292.74 1789.73,1292.76 1791.78,1292.78 1793.84,1292.80 1795.89,1292.83 1797.95,1292.86 1800.00,1292.89"/>
<path stroke="#40289e" d="M320.00,241.40 659.50,241.40 661.50,241.43 663.51,241.41 665.53,241.39 667.54,241.38 669.55,241.36 671.56,241.35 673.57,241.35 675.58,241.34 677.59,241.33 679.60,241.33 681.61,241.33 683.62,241.33 685.63,241.33 687.64,241.34 689.65,241.34 691.66,241.35 693.66,241.35 695.67,241.36 697.68,241.37 699.69,241.38 701.69,241.39 703.70,241.40 705.71,241.41 707.71,241.42 709.72,241.43 711.73,241.44 713.73,241.45 715.74,241.45 717.75,241.46 719.75,241.47 721.76,241.48 723.77,241.48 725.77,241.49 727.78,241.49 729.79,241.50 731.80,241.50 733.81,241.50 735.81,241.49 737.82,241.49 739.83,241.48 741.84,241.48 743.85,241.47 745.86,241.45 747.87,241.44 749.88,241.42 751.89,241.41 753.91,241.39 755.92,241.37 757.93,241.35 759.94,241.34 761.95,241.32 763.97,241.31 765.98,241.30 767.99,241.29 770.00,241.28 772.01,241.27 774.03,241.27 776.04,241.27 778.05,241.28 780.06,241.29 782.07,241.31 784.08,241.33 786.09,241.36 788.10,241.39 790.11,241.43 792.12,241.48 794.12,241.53 796.13,241.60 798.14,241.67 800.14,241.75 802.15,241.83 804.15,241.93 806.15,242.04 808.16,242.16 810.16,242.29 812.16,242.43 814.16,242.58 816.16,242.74 818.15,242.92 820.15,243.10 822.15,243.30 824.14,243.52 826.13,243.75 828.12,243.99 830.11,244.25 832.10,244.52 834.09,244.81 836.08,245.11 838.06,245.43 840.04,245.77 842.02,246.12 843.99,246.49 845.97,246.88 847.93,247.28 849.90,247.71 851.86,248.15 853.81,248.61 855.76,249.09 857.70,249.59 859.64,250.11 861.57,250.65 863.49,251.22 865.41,251.80 867.32,252.40 869.22,253.03 871.11,253.67 872.99,254.34 874.87,255.04 876.73,255.75 878.59,256.49 880.43,257.25 882.27,258.04 884.09,258.85 885.90,259.69 887.70,260.55 889.49,261.44 891.27,262.35 893.03,263.29 894.79,264.24 896.53,265.22 898.27,266.22 899.99,267.24 901.72,268.27 903.43,269.32 905.15,270.37 906.86,271.44 908.57,272.52 910.27,273.60 911.98,274.68 913.69,275.77 915.40,276.86 917.12,277.95 918.84,279.04 920.56,280.13 922.29,281.20 924.03,282.28 925.76,283.35 927.50,284.42 929.24,285.50 930.98,286.57 932.71,287.65 934.44,288.74 936.16,289.83 937.88,290.93 939.58,292.04 941.27,293.16 942.96,294.30 944.62,295.45 946.28,296.61 947.92,297.79 949.55,298.98 951.16,300.18 952.77,301.40 954.36,302.63 955.94,303.87 957.50,305.13 959.06,306.39 960.60,307.67 962.13,308.96 963.65,310.27 965.15,311.58 966.65,312.91 968.13,314.25 969.60,315.60 971.06,316.96 972.50,318.33 973.94,319.71 975.37,321.11 976.78,322.51 978.18,323.93 979.57,325.35 980.95,326.79 982.32,328.23 983.68,329.69 985.03,331.15 986.37,332.63 987.70,334.12 989.01,335.61 990.32,337.11 991.62,338.63 992.90,340.15 994.18,341.68 995.45,343.22 996.70,344.77 997.95,346.32 999.19,347.89 1000.42,349.46 1001.64,351.04 1002.84,352.63 1004.04,354.23 1005.23,355.83 1006.42,357.44 1007.59,359.06 1008.75,360.69 1009.91,362.32 1011.05,363.96 1012.19,365.60 1013.32,367.26 1014.44,368.92 1015.55,370.58 1016.65,372.25 1017.75,373.93 1018.83,375.62 1019.91,377.31 1020.98,379.00 1022.05,380.70 1023.10,382.41 1024.15,384.12 1025.19,385.83 1026.22,387.55 1027.25,389.28 1028.26,391.01 1029.28,392.74 1030.28,394.48 1031.28,396.23 1032.26,397.97 1033.25,399.72 1034.22,401.48 1035.19,403.24 1036.15,405.00 1037.11,406.77 1038.06,408.53 1039.00,410.31 1039.94,412.08 1040.87,413.86 1041.79,415.65 1042.71,417.43 1043.62,419.22 1044.52,421.02 1045.42,422.81 1046.31,424.61 1047.20,426.41 1048.08,428.22 1048.95,430.03 1049.82,431.84 1050.68,433.66 1051.53,435.47 1052.38,437.29 1053.23,439.12 1054.07,440.94 1054.90,442.77 1055.72,444.61 1056.55,446.44 1057.36,448.28 1058.17,450.12 1058.97,451.96 1059.77,453.81 1060.57,455.66 1061.35,457.51 1062.14,459.36 1062.91,461.22 1063.68,463.08 1064.45,464.94 1065.21,466.80 1065.97,468.66 1066.72,470.53 1067.47,472.40 1068.21,474.27 1068.94,476.15 1069.67,478.02 1070.40,479.90 1071.12,481.78 1071.84,483.67 1072.55,485.55 1073.26,487.44 1073.96,489.32 1074.66,491.21 1075.35,493.11 1076.04,495.00 1076.72,496.89 1077.40,498.79 1078.08,500.69 1078.75,502.59 1079.42,504.49 1080.08,506.40 1080.74,508.30 1081.39,510.21 1082.04,512.12 1082.69,514.03 1083.33,515.94 1083.97,517.85 1084.60,519.76 1085.23,521.68 1085.86,523.59 1086.48,525.51 1087.10,527.43 1087.71,529.35 1088.32,531.27 1088.93,533.19 1089.53,535.11 1090.13,537.03 1090.73,538.96 1091.32,540.88 1091.91,542.81 1092.50,544.73 1093.08,546.66 1093.66,548.59 1094.24,550.52 1094.81,552.45 1095.38,554.38 1095.95,556.31 1096.51,558.24 1097.08,560.17 1097.63,562.10 1098.19,564.04 1098.74,565.97 1099.29,567.90 1099.84,569.84 1100.38,571.77 1100.92,573.71 1101.46,575.64 1102.00,577.58 1102.53,579.51 1103.06,581.45 1103.60,583.38 1104.12,585.32 1104.65,587.26 1105.17,589.19 1105.70,591.13 1106.22,593.07 1106.74,595.01 1107.26,596.94 1107.77,598.88 1108.29,600.82 1108.80,602.76 1109.31,604.70 1109.83,606.64 1110.34,608.58 1110.85,610.51 1111.35,612.45 1111.86,614.39 1112.37,616.33 1112.88,618.27 1113.38,620.21 1113.89,622.15 1114.39,624.09 1114.90,626.03 1115.40,627.97 1115.91,629.91 1116.41,631.85 1116.92,633.79 1117.42,635.73 1117.93,637.67 1118.43,639.61 1118.94,641.54 1119.45,643.48 1119.95,645.42 1120.46,647.36 1120.97,649.30 1121.48,651.24 1121.99,653.18 1122.50,655.12 1123.01,657.05 1123.52,658.99 1124.04,660.93 1124.55,662.87 1125.07,664.80 1125.59,666.74 1126.11,668.68 1126.63,670.61 1127.15,672.55 1127.68,674.48 1128.20,676.42 1128.73,678.35 1129.26,680.29 1129.80,682.22 1130.33,684.16 1130.87,686.09 1131.41,688.02 1131.95,689.96 1132.50,691.89 1133.04,693.82 1133.59,695.75 1134.15,697.68 1134.70,699.61 1135.27,701.54 1135.83,703.47 1136.40,705.39 1136.98,707.31 1137.57,709.23 1138.16,711.15 1138.76,713.07 1139.37,714.98 1139.99,716.89 1140.62,718.79 1141.26,720.69 1141.92,722.58 1142.58,724.47 1143.26,726.36 1143.95,728.24 1144.65,730.12 1145.37,731.98 1146.11,733.85 1146.86,735.70 1147.62,737.55 1148.40,739.39 1149.20,741.23 1150.01,743.06 1150.83,744.89 1151.66,746.71 1152.50,748.53 1153.35,750.35 1154.21,752.16 1155.07,753.97 1155.94,755.78 1156.81,757.59 1157.68,759.40 1158.55,761.20 1159.42,763.01 1160.29,764.82 1161.16,766.63 1162.02,768.44 1162.88,770.26 1163.73,772.07 1164.58,773.90 1165.41,775.72 1166.24,777.55 1167.05,779.38 1167.86,781.22 1168.66,783.06 1169.46,784.91 1170.24,786.76 1171.01,788.61 1171.78,790.46 1172.54,792.32 1173.29,794.19 1174.04,796.05 1174.78,797.92 1175.50,799.79 1176.23,801.67 1176.94,803.55 1177.65,805.43 1178.35,807.31 1179.04,809.20 1179.73,811.09 1180.41,812.98 1181.08,814.88 1181.75,816.77 1182.41,818.68 1183.07,820.58 1183.71,822.48 1184.36,824.39 1184.99,826.30 1185.62,828.21 1186.25,830.13 1186.87,832.04 1187.48,833.96 1188.09,835.88 1188.69,837.80 1189.29,839.72 1189.89,841.65 1190.47,843.58 1191.06,845.50 1191.64,847.43 1192.21,849.37 1192.78,851.30 1193.35,853.23 1193.91,855.17 1194.47,857.10 1195.02,859.04 1195.57,860.98 1196.11,862.92 1196.66,864.86 1197.19,866.80 1197.73,868.74 1198.26,870.68 1198.79,872.63 1199.31,874.57 1199.83,876.51 1200.35,878.46 1200.87,880.40 1201.38,882.35 1201.89,884.29 1202.40,886.24 1202.91,888.18 1203.41,890.13 1203.91,892.07 1204.41,894.02 1204.91,895.97 1205.40,897.91 1205.89,899.86 1206.38,901.81 1206.87,903.76 1207.35,905.70 1207.83,907.65 1208.31,909.60 1208.79,911.55 1209.26,913.50 1209.74,915.45 1210.21,917.40 1210.68,919.35 1211.14,921.30 1211.61,923.25 1212.07,925.20 1212.53,927.15 1212.99,929.10 1213.45,931.05 1213.90,933.00 1214.36,934.96 1214.81,936.91 1215.26,938.86 1215.71,940.81 1216.15,942.77 1216.60,944.72 1217.04,946.67 1217.48,948.63 1217.92,950.58 1218.36,952.53 1218.80,954.49 1219.23,956.44 1219.67,958.40 1220.10,960.35 1220.53,962.31 1220.96,964.27 1221.39,966.22 1221.82,968.18 1222.24,970.14 1222.67,972.09 1223.09,974.05 1223.51,976.01 1223.94,977.97 1224.36,979.92 1224.78,981.88 1225.19,983.84 1225.61,985.80 1226.03,987.76 1226.44,989.72 1226.86,991.68 1227.27,993.64 1227.69,995.60 1228.10,997.56 1228.51,999.52 1228.92,1001.48 1229.33,1003.44 1229.74,1005.40 1230.15,1007.36 1230.56,1009.33 1230.96,1011.29 1231.37,1013.25 1231.78,1015.21 1232.18,1017.18 1232.59,1019.14 1233.00,1021.10 1233.40,1023.07 1233.81,1025.03 1234.21,1027.00 1234.61,1028.96 1235.02,1030.93 1235.42,1032.89 1235.82,1034.86 1236.23,1036.82 1236.63,1038.79 1237.03,1040.76 1237.44,1042.72 1237.84,1044.69 1238.24,1046.66 1238.65,1048.63 1239.05,1050.59 1239.45,1052.56 1239.86,1054.53 1240.26,1056.50 1240.66,1058.47 1241.07,1060.44 1241.47,1062.41 1241.88,1064.38 1242.28,1066.35 1242.69,1068.32 1243.09,1070.29 1243.50,1072.26 1243.91,1074.23 1244.31,1076.20 1244.72,1078.17 1245.13,1080.14 1245.54,1082.12 1245.95,1084.09 1246.36,1086.06 1246.77,1088.03 1247.18,1090.01 1247.59,1091.98 1248.00,1093.96 1248.42,1095.93 1248.83,1097.90 1249.25,1099.88 1249.67,1101.85 1250.08,1103.83 1250.50,1105.81 1250.92,1107.78 1251.34,1109.76 1251.76,1111.73 1252.19,1113.71 1252.61,1115.69 1253.03,1117.66 1253.46,1119.64 1253.89,1121.62 1254.32,1123.60 1254.75,1125.57 1255.19,1127.55 1255.63,1129.53 1256.08,1131.50 1256.54,1133.47 1257.00,1135.44 1257.48,1137.41 1257.97,1139.37 1258.46,1141.33 1258.98,1143.29 1259.50,1145.24 1260.04,1147.19 1260.60,1149.13 1261.17,1151.07 1261.76,1153.00 1262.37,1154.92 1263.00,1156.84 1263.65,1158.76 1264.33,1160.66 1265.03,1162.56 1265.75,1164.45 1266.50,1166.33 1267.27,1168.20 1268.07,1170.06 1268.90,1171.91 1269.77,1173.74 1270.66,1175.56 1271.59,1177.34 1272.55,1179.11 1273.55,1180.84 1274.59,1182.54 1275.67,1184.20 1276.79,1185.82 1277.95,1187.41 1279.15,1188.94 1280.40,1190.43 1281.69,1191.86 1283.04,1193.25 1284.43,1194.57 1285.87,1195.83 1287.36,1197.03 1288.90,1198.17 1290.48,1199.25 1292.11,1200.27 1293.78,1201.23 1295.50,1202.12 1297.25,1202.96 1299.04,1203.75 1300.86,1204.49 1302.72,1205.17 1304.60,1205.81 1306.51,1206.41 1308.45,1206.97 1310.41,1207.50 1312.38,1207.99 1314.38,1208.45 1316.38,1208.88 1318.40,1209.29 1320.43,1209.68 1322.47,1210.05 1324.51,1210.40 1326.55,1210.75 1328.60,1211.08 1330.64,1211.41 1332.67,1211.73 1334.70,1212.05 1336.73,1212.36 1338.75,1212.67 1340.77,1212.98 1342.79,1213.28 1344.80,1213.59 1346.80,1213.89 1348.81,1214.19 1350.81,1214.49 1352.81,1214.78 1354.80,1215.08 1356.79,1215.38 1358.78,1215.68 1360.77,1215.97 1362.75,1216.27 1364.73,1216.57 1366.71,1216.87 1368.68,1217.18 1370.66,1217.48 1372.63,1217.79 1374.60,1218.10 1376.57,1218.41 1378.53,1218.73 1380.50,1219.05 1382.46,1219.38 1384.42,1219.71 1386.38,1220.05 1388.34,1220.39 1390.30,1220.73 1392.25,1221.09 1394.21,1221.45 1396.17,1221.81 1398.12,1222.19 1400.08,1222.57 1402.03,1222.96 1403.98,1223.35 1405.94,1223.76 1407.89,1224.17 1409.84,1224.59 1411.80,1225.03 1413.75,1225.47 1415.70,1225.92 1417.65,1226.38 1419.60,1226.85 1421.55,1227.33 1423.50,1227.81 1425.45,1228.31 1427.39,1228.82 1429.33,1229.34 1431.27,1229.87 1433.21,1230.41 1435.15,1230.96 1437.08,1231.52 1439.01,1232.09 1440.94,1232.67 1442.86,1233.26 1444.78,1233.86 1446.70,1234.48 1448.62,1235.10 1450.53,1235.74 1452.44,1236.39 1454.34,1237.05 1456.24,1237.72 1458.13,1238.41 1460.02,1239.10 1461.91,1239.81 1463.79,1240.53 1465.66,1241.26 1467.53,1242.01 1469.40,1242.77 1471.26,1243.54 1473.11,1244.32 1474.96,1245.11 1476.80,1245.92 1478.64,1246.75 1480.47,1247.58 1482.29,1248.43 1484.11,1249.29 1485.92,1250.17 1487.72,1251.06 1489.51,1251.96 1491.30,1252.88 1493.08,1253.81 1494.85,1254.76 1496.62,1255.71 1498.38,1256.67 1500.14,1257.64 1501.90,1258.62 1503.65,1259.59 1505.40,1260.56 1507.16,1261.53 1508.91,1262.50 1510.66,1263.45 1512.42,1264.40 1514.18,1265.33 1515.94,1266.25 1517.71,1267.16 1519.49,1268.04 1521.28,1268.90 1523.07,1269.74 1524.87,1270.56 1526.68,1271.34 1528.50,1272.10 1530.33,1272.83 1532.18,1273.53 1534.03,1274.20 1535.90,1274.84 1537.77,1275.45 1539.66,1276.02 1541.56,1276.56 1543.47,1277.06 1545.39,1277.54 1547.32,1277.99 1549.26,1278.41 1551.21,1278.81 1553.17,1279.18 1555.13,1279.53 1557.10,1279.85 1559.08,1280.16 1561.06,1280.44 1563.05,1280.71 1565.05,1280.97 1567.04,1281.21 1569.05,1281.43 1571.05,1281.64 1573.06,1281.84 1575.06,1282.04 1577.07,1282.22 1579.08,1282.40 1581.09,1282.57 1583.10,1282.74 1585.11,1282.91 1587.12,1283.07 1589.13,1283.22 1591.14,1283.37 1593.15,1283.52 1595.16,1283.66 1597.17,1283.80 1599.18,1283.94 1601.19,1284.07 1603.20,1284.20 1605.20,1284.32 1607.21,1284.44 1609.22,1284.56 1611.23,1284.67 1613.24,1284.78 1615.24,1284.89 1617.25,1284.99 1619.26,1285.09 1621.27,1285.19 1623.28,1285.28 1625.28,1285.37 1627.29,1285.46 1629.30,1285.54 1631.31,1285.63 1633.31,1285.71 1635.32,1285.78 1637.33,1285.86 1639.33,1285.93 1641.34,1286.00 1643.35,1286.07 1645.36,1286.13 1647.36,1286.20 1649.37,1286.26 1651.38,1286.32 1653.39,1286.37 1655.39,1286.43 1657.40,1286.48 1659.41,1286.53 1661.41,1286.58 1663.42,1286.63 1665.43,1286.68 1667.44,1286.72 1669.44,1286.77 1671.45,1286.81 1673.46,1286.85 1675.47,1286.89 1677.47,1286.93 1679.48,1286.97 1681.49,1287.01 1683.50,1287.04 1685.51,1287.08 1687.51,1287.11 1689.52,1287.15 1691.53,1287.18 1693.54,1287.21 1695.55,1287.24 1697.56,1287.27 1699.56,1287.30 1701.57,1287.33 1703.58,1287.35 1705.59,1287.38 1707.60,1287.41 1709.61,1287.43 1711.61,1287.46 1713.62,1287.48 1715.63,1287.50 1717.64,1287.53 1719.65,1287.55 1721.66,1287.57 1723.67,1287.59 1725.67,1287.62 1727.68,1287.64 1729.69,1287.66 1731.70,1287.68 1733.71,1287.70 1735.72,1287.72 1737.73,1287.74 1739.74,1287.76 1741.74,1287.78 1743.75,1287.79 1745.76,1287.81 1747.77,1287.83 1749.78,1287.85 1751.79,1287.87 1753.80,1287.89 1755.81,1287.91 1757.82,1287.93 1759.82,1287.95 1761.83,1287.97 1763.84,1287.99 1765.85,1288.01 1767.86,1288.03 1769.87,1288.05 1771.88,1288.07 1773.89,1288.09 1775.90,1288.12 1777.90,1288.14 1779.91,1288.16 1781.92,1288.18 1783.93,1288.21 1785.94,1288.23 1787.95,1288.26 1789.96,1288.28 1791.97,1288.31 1793.97,1288.34 1795.98,1288.37 1797.99,1288.39 1800.00,1288.42"/>
</g>
<g stroke="#000" stroke-width="3.2" fill="none">
<line x1="214.2" y1="31" x2="214.2" y2="1322.0"/>
<line x1="200.0" y1="1306.5" x2="1804.0" y2="1306.5"/>
<line x1="1802.4" y1="27.8" x2="1802.4" y2="1322.0"/>
<line x1="478.7" y1="1306.5" x2="478.7" y2="1322.0"/>
<line x1="743.4" y1="1306.5" x2="743.4" y2="1322.0"/>
<line x1="1008.7" y1="1306.5" x2="1008.7" y2="1322.0"/>
<line x1="1273.5" y1="1306.5" x2="1273.5" y2="1322.0"/>
<line x1="1537.8" y1="1306.5" x2="1537.8" y2="1322.0"/>
<line x1="200.0" y1="1093.3" x2="214.2" y2="1093.3"/>
<line x1="200.0" y1="880.2" x2="214.2" y2="880.2"/>
<line x1="200.0" y1="667.1" x2="214.2" y2="667.1"/>
<line x1="200.0" y1="454.0" x2="214.2" y2="454.0"/>
<line x1="200.0" y1="240.9" x2="214.2" y2="240.9"/>
<line x1="280.3" y1="1306.5" x2="280.3" y2="1314.0"/>
<line x1="346.4" y1="1306.5" x2="346.4" y2="1314.0"/>
<line x1="412.6" y1="1306.5" x2="412.6" y2="1314.0"/>
<line x1="544.9" y1="1306.5" x2="544.9" y2="1314.0"/>
<line x1="611.0" y1="1306.5" x2="611.0" y2="1314.0"/>
<line x1="677.2" y1="1306.5" x2="677.2" y2="1314.0"/>
<line x1="809.7" y1="1306.5" x2="809.7" y2="1314.0"/>
<line x1="876.4" y1="1306.5" x2="876.4" y2="1314.0"/>
<line x1="942.5" y1="1306.5" x2="942.5" y2="1314.0"/>
<line x1="1074.9" y1="1306.5" x2="1074.9" y2="1314.0"/>
<line x1="1141.1" y1="1306.5" x2="1141.1" y2="1314.0"/>
<line x1="1207.3" y1="1306.5" x2="1207.3" y2="1314.0"/>
<line x1="1339.6" y1="1306.5" x2="1339.6" y2="1314.0"/>
<line x1="1405.7" y1="1306.5" x2="1405.7" y2="1314.0"/>
<line x1="1471.7" y1="1306.5" x2="1471.7" y2="1314.0"/>
<line x1="1603.9" y1="1306.5" x2="1603.9" y2="1314.0"/>
<line x1="1670.1" y1="1306.5" x2="1670.1" y2="1314.0"/>
<line x1="1736.3" y1="1306.5" x2="1736.3" y2="1314.0"/>
<line x1="207.2" y1="1253.2" x2="214.2" y2="1253.2"/>
<line x1="207.2" y1="1199.9" x2="214.2" y2="1199.9"/>
<line x1="207.2" y1="1146.6" x2="214.2" y2="1146.6"/>
<line x1="207.2" y1="1040.1" x2="214.2" y2="1040.1"/>
<line x1="207.2" y1="986.8" x2="214.2" y2="986.8"/>
<line x1="207.2" y1="933.5" x2="214.2" y2="933.5"/>
<line x1="207.2" y1="827.0" x2="214.2" y2="827.0"/>
<line x1="207.2" y1="773.7" x2="214.2" y2="773.7"/>
<line x1="207.2" y1="720.4" x2="214.2" y2="720.4"/>
<line x1="207.2" y1="613.8" x2="214.2" y2="613.8"/>
<line x1="207.2" y1="560.6" x2="214.2" y2="560.6"/>
<line x1="207.2" y1="507.3" x2="214.2" y2="507.3"/>
<line x1="207.2" y1="400.7" x2="214.2" y2="400.7"/>
<line x1="207.2" y1="347.5" x2="214.2" y2="347.5"/>
<line x1="207.2" y1="294.2" x2="214.2" y2="294.2"/>
<line x1="207.2" y1="187.6" x2="214.2" y2="187.6"/>
<line x1="207.2" y1="134.3" x2="214.2" y2="134.3"/>
<line x1="207.2" y1="81.1" x2="214.2" y2="81.1"/>
</g>
<g font-size="45.1" fill="#0d0d0d" text-anchor="middle">
<text transform="translate(132.82,262.47) scale(1,1.080)">100</text>
<text transform="translate(138.59,479.43) scale(1,1.080)">80</text>
<text transform="translate(138.59,690.93) scale(1,1.080)">60</text>
<text transform="translate(139.76,904.18) scale(1,1.080)">40</text>
<text transform="translate(138.47,1113.83) scale(1,1.080)">20</text>
<text transform="translate(212.70,1375.20) scale(1,1.080)">0</text>
<text transform="translate(474.69,1375.20) scale(1,1.080)">100</text>
<text transform="translate(741.00,1375.20) scale(1,1.080)">200</text>
<text transform="translate(1006.11,1375.20) scale(1,1.080)">300</text>
<text transform="translate(1270.17,1375.20) scale(1,1.080)">400</text>
<text transform="translate(1538.22,1375.20) scale(1,1.080)">500</text>
<text transform="translate(1804.47,1374.80) scale(1,1.080)">600</text>
</g>
<text transform="translate(987.7,1461.9) scale(1,1.045)" font-size="60" fill="#0d0d0d">T [<tspan font-size="30" dy="-27.6">o</tspan><tspan dy="27.6">C]</tspan></text>
<text transform="translate(68.7,653.6) rotate(-90) scale(1,1.05)" font-size="59.5" fill="#0d0d0d" text-anchor="middle">Weight [%]</text>
<rect x="1118.9" y="28.9" width="683.9" height="227.3" fill="#fdfdfd" stroke="#000" stroke-width="2.8"/>
<g stroke-width="7.9" fill="none">
<line x1="1148.8" y1="82.7" x2="1275.1" y2="82.7" stroke="#ff3205"/>
<line x1="1148.8" y1="152.2" x2="1275.1" y2="152.2" stroke="#40289e"/>
<line x1="1148.8" y1="214.7" x2="1275.1" y2="214.7" stroke="#00a6d6"/>
</g>
<g font-size="44.6" fill="#0d0d0d">
<text transform="translate(1300.4,104.2) scale(1,1.03)">PP/PBT 50/50</text>
<text transform="translate(1300.4,167.3) scale(1,1.03)">PP/PBT 50/50+PBT-DLA</text>
<text transform="translate(1300.4,233.4) scale(1,1.03)">PP/PBT 50/50+SEBS</text>
</g>
<path fill="#fff" d="M0,0H1869V1504H0Z M25,12V1474H1841V12Z" fill-rule="evenodd"/>
</svg>
</body></html>
